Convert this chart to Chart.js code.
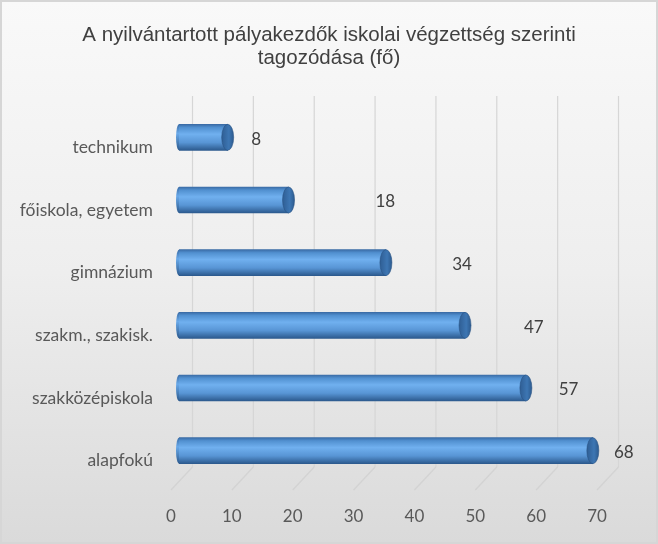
<!DOCTYPE html>
<html>
<head>
<meta charset="utf-8">
<script src="https://cdn.jsdelivr.net/npm/chart.js@4/dist/chart.umd.min.js"></script>
<style>
html,body{margin:0;padding:0;background:#fff;}
#wrap{position:relative;width:658px;height:544px;box-sizing:border-box;border:2px solid #d6d6d6;
background:linear-gradient(to bottom,#f9f9f9 0%,#eeeeee 50%,#dadada 100%);}
canvas{position:absolute;left:-2px;top:-2px;}
</style>
</head>
<body>
<div id="wrap"><canvas id="c" width="658" height="544"></canvas></div>
<script>
const categories = ['technikum','főiskola, egyetem','gimnázium','szakm., szakisk.','szakközépiskola','alapfokú'];
const values = [8, 18, 34, 47, 57, 68];
const xTicks = [0,10,20,30,40,50,60,70];
const titleLines = ['A nyilvántartott pályakezdők iskolai végzettség szerinti','tagozódása (fő)'];

// per-point label x positions (axis units), as Excel placed them in the 3-D view
const labelAnchors = [12.7, 33.9, 46.5, 58.3, 64.0, 73.1];

const cylinder = {
  id: 'cylinder',
  beforeDatasetsDraw(chart) {
    const {ctx, scales:{x}} = chart;
    ctx.save();
    // title, centred on the whole chart
    ctx.fillStyle = '#404040';
    ctx.font = '20.5px "Liberation Sans", Arial, sans-serif';
    ctx.textAlign = 'center';
    ctx.textBaseline = 'middle';
    titleLines.forEach((t, i) => ctx.fillText(t, chart.width / 2, 35 + i * 23));
    ctx.lineWidth = 1.2;
    xTicks.forEach(v => {
      const px = x.getPixelForValue(v);
      ctx.strokeStyle = '#d6d6d6';
      ctx.beginPath();
      ctx.moveTo(px + 13.5, 96);
      ctx.lineTo(px + 13.5, 467);
      ctx.stroke();
      ctx.strokeStyle = 'rgba(200,200,200,0.55)';
      ctx.beginPath();
      ctx.moveTo(px + 13.5, 467);
      ctx.lineTo(px - 8, 490);
      ctx.stroke();
    });
    ctx.restore();
  },
  afterDatasetsDraw(chart) {
    const {ctx, scales:{x}} = chart;
    const meta = chart.getDatasetMeta(0);
    ctx.save();
    meta.data.forEach((bar, i) => {
      const h = bar.height, y = bar.y, r = h/2, rx = 6;
      if (!Number.isFinite(y) || !Number.isFinite(h)) return;
      const gl = ctx.createLinearGradient(0, y - r, 0, y + r);
      gl.addColorStop(0, '#3a6ca6'); gl.addColorStop(0.35, '#6aaaea'); gl.addColorStop(1, '#2c5a8e');
      ctx.fillStyle = gl;
      ctx.beginPath();
      ctx.ellipse(bar.base, y, 3, r, 0, Math.PI/2, Math.PI*1.5);
      ctx.fill();
      const gc = ctx.createLinearGradient(bar.x - rx, 0, bar.x + rx, 0);
      gc.addColorStop(0, '#2f5e94'); gc.addColorStop(0.6, '#3d76b3'); gc.addColorStop(1, '#2d5b8f');
      ctx.fillStyle = gc;
      ctx.beginPath();
      ctx.ellipse(bar.x, y, rx, r, 0, 0, Math.PI*2);
      ctx.fill();
      ctx.strokeStyle = 'rgba(40,80,130,0.7)';
      ctx.lineWidth = 0.8;
      ctx.stroke();
      ctx.fillStyle = '#404040';
      ctx.font = '17px Lato, "Open Sans", sans-serif';
      ctx.textAlign = 'center';
      ctx.textBaseline = 'middle';
      ctx.fillText(String(values[i]), x.getPixelForValue(labelAnchors[i]), y + 2);
    });
    ctx.restore();
  }
};

new Chart(document.getElementById('c'), {
  type: 'bar',
  data: {
    labels: categories,
    datasets: [{
      data: values,
      borderWidth: 0,
      barThickness: 26,
      backgroundColor(c) {
        const chart = c.chart;
        const ys = chart.scales && chart.scales.y;
        if (!chart.chartArea || !ys || c.dataIndex === undefined) return '#5b9bd5';
        const y = ys.getPixelForValue(c.dataIndex), r = 13;
        if (!Number.isFinite(y)) return '#5b9bd5';
        const g = chart.ctx.createLinearGradient(0, y - r, 0, y + r);
        g.addColorStop(0, '#3a6ca6');
        g.addColorStop(0.12, '#5190d0');
        g.addColorStop(0.38, '#70b0ef');
        g.addColorStop(0.7, '#5895d5');
        g.addColorStop(1, '#2c5a8e');
        return g;
      }
    }]
  },
  options: {
    indexAxis: 'y',
    responsive: false,
    animation: false,
    devicePixelRatio: 1,
    layout: { padding: { left: 0, right: 53, top: 106, bottom: 18 } },
    plugins: {
      legend: { display: false },
      tooltip: { enabled: false },
      title: { display: false }
    },
    scales: {
      x: {
        type: 'linear',
        min: 0, max: 70,
        afterBuildTicks(scale) { scale.ticks = xTicks.map(v => ({value: v})); },
        afterFit(scale) { scale.height = 44; },
        grid: { display: false },
        border: { display: false },
        ticks: {
          color: '#595959',
          font: { family: 'Lato, "Open Sans", sans-serif', size: 17 },
          padding: 16,
          labelOffset: -8
        }
      },
      y: {
        type: 'category',
        afterFit(scale) { scale.width = 179; },
        grid: { display: false },
        border: { display: false },
        ticks: {
          color: '#595959',
          font: { family: 'Lato, "Open Sans", sans-serif', size: 17.5 },
          padding: 18,
          labelOffset: 10
        }
      }
    }
  },
  plugins: [cylinder]
});
</script>
</body>
</html>
